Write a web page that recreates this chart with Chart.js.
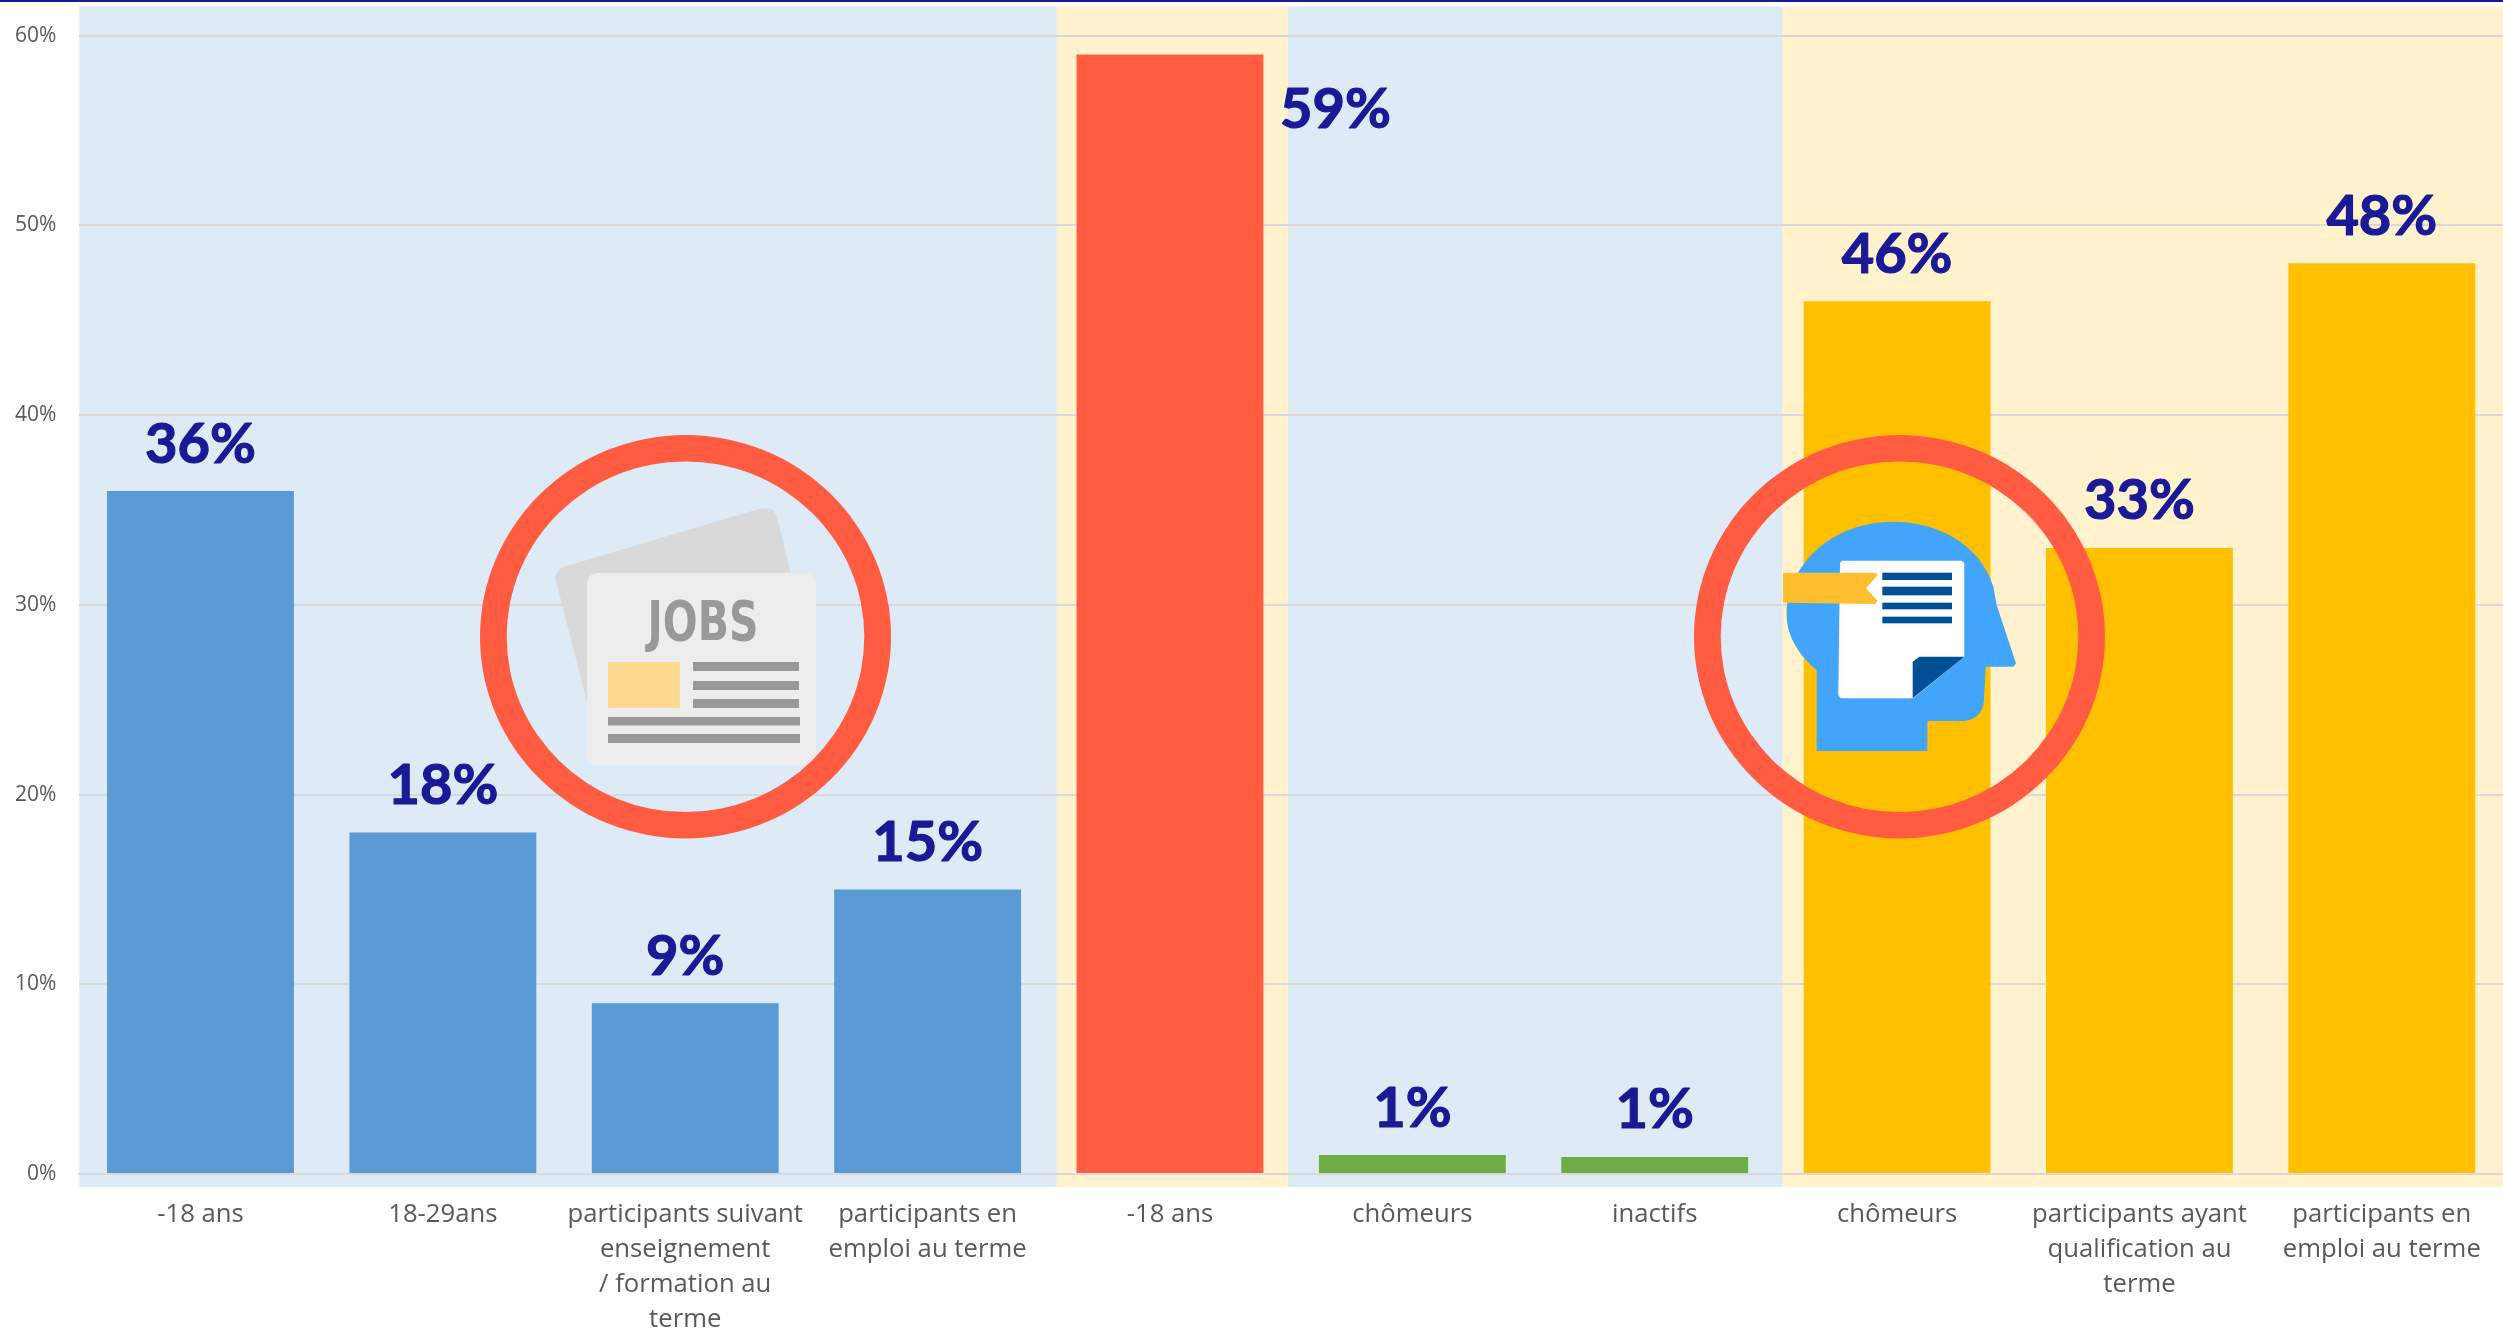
<!DOCTYPE html>
<html><head><meta charset="utf-8">
<style>html,body{margin:0;padding:0;background:#fff;overflow:hidden}canvas{display:block}</style>
<script src="https://cdn.jsdelivr.net/npm/chart.js@4"></script>
</head><body><canvas id="c" width="2503" height="1333"></canvas>
<script>
const categories=[["-18 ans"],["18-29ans"],["participants suivant","enseignement","/ formation au","terme"],["participants en","emploi au terme"],["-18 ans"],["chômeurs"],["inactifs"],["chômeurs"],["participants ayant","qualification au","terme"],["participants en","emploi au terme"]];
const values=[36,18,9,15,59,1,0.9,46,33,48];
const barColors=["#5b9bd5","#5b9bd5","#5b9bd5","#5b9bd5","#ff5c41","#70ad47","#70ad47","#ffc000","#ffc000","#ffc000"];
const yTicks=[0,10,20,30,40,50,60];
const bandEdges=[-0.5,3.533,4.487,6.527,9.5];
const bandColors=["#deeaf6","#fff2cc","#deeaf6","#fff2cc"];

function poly(ctx,pts,color){ctx.fillStyle=color;ctx.beginPath();pts.forEach((p,i)=>i?ctx.lineTo(p[0],p[1]):ctx.moveTo(p[0],p[1]));ctx.closePath();ctx.fill();}
function ring(ctx,cx,cy){ctx.fillStyle="#ff5c41";ctx.beginPath();ctx.ellipse(cx,cy,205.5,201.7,0,0,Math.PI*2);ctx.ellipse(cx,cy,178.8,175.3,0,0,Math.PI*2);ctx.fill("evenodd");}
function jobsIcon(ctx){
  ctx.save();
  poly(ctx,[[555,577],[560,568],[762,508],[772,509],[777,516],[791,575],[587,702]],"#d9d9d9");
  ctx.fillStyle="#ededed";ctx.beginPath();ctx.roundRect(587,573,229,193,10);ctx.fill();
  ctx.fillStyle="#999999";ctx.font="bold 49px 'DejaVu Sans Condensed'";ctx.textAlign="center";ctx.textBaseline="alphabetic";
  ctx.save();ctx.translate(703,640);ctx.scale(0.93,1.14);ctx.fillText("JOBS",0,0);ctx.restore();
  ctx.fillStyle="#ffd98f";ctx.fillRect(608,662,72,46);
  ctx.fillStyle="#999999";
  [[693,662,106,9],[693,681,106,9],[693,699,106,9],[608,717,192,8.5],[608,734,192,9]].forEach(r=>ctx.fillRect(r[0],r[1],r[2],r[3]));
  ctx.restore();
}
function headIcon(ctx){
  const X=z=>1680+z/3,Y=z=>420+z/3;
  ctx.save();
  ctx.fillStyle="#42a5f9";ctx.beginPath();
  ctx.moveTo(X(410),Y(993));ctx.lineTo(X(742),Y(993));ctx.lineTo(X(742),Y(903));ctx.lineTo(X(850),Y(903));
  ctx.quadraticCurveTo(X(908),Y(898),X(912),Y(840));ctx.lineTo(X(917),Y(740));ctx.lineTo(X(1000),Y(740));ctx.lineTo(X(1008),Y(730));
  ctx.lineTo(X(950),Y(555));ctx.lineTo(X(940),Y(500));
  ctx.bezierCurveTo(X(900),Y(370),X(770),Y(305),X(640),Y(305));
  ctx.bezierCurveTo(X(450),Y(305),X(320),Y(440),X(320),Y(585));
  ctx.bezierCurveTo(X(320),Y(650),X(360),Y(710),X(410),Y(750));
  ctx.closePath();ctx.fill();
  const Pa=a=>a.map(p=>[X(p[0]),Y(p[1])]);
  poly(ctx,Pa([[480,428],[486,422],[845,422],[853,430],[853,710],[700,835],[482,835],[475,825]]),"#ffffff");
  poly(ctx,Pa([[853,710],[718,710],[698,725],[698,835]]),"#005096");
  ctx.fillStyle="#005096";
  [[458,480],[500,526],[548,568],[590,610]].forEach(r=>ctx.fillRect(X(607),Y(r[0]),209/3,(r[1]-r[0])/3));
  poly(ctx,Pa([[309,458],[585,458],[593,465],[558,505],[593,543],[585,552],[309,548]]),"#fdbf2d");
  ctx.restore();
}
const decor={id:"decor",
  beforeDraw(ch){
    const {ctx,scales:{x,y}}=ch;
    const top=y.getPixelForValue(61.53),bot=y.getPixelForValue(-0.685);
    ctx.save();
    ctx.fillStyle="#1a1a96";ctx.fillRect(0,0,ch.width,2);
    bandColors.forEach((c,i)=>{
      const a=x.getPixelForValue(bandEdges[i]),b=x.getPixelForValue(bandEdges[i+1]);
      ctx.fillStyle=c;ctx.fillRect(a,top,b-a,bot-top);
    });
    ctx.restore();
  },
  afterDraw(ch){
    const {ctx}=ch,m=ch.getDatasetMeta(0);
    ctx.save();
    ctx.fillStyle="#1a1a96";ctx.strokeStyle="#1a1a96";ctx.lineWidth=1.2;ctx.lineJoin="round";
    ctx.font="700 56px Lato";ctx.textAlign="center";ctx.textBaseline="middle";
    values.forEach((v,i)=>{
      const b=m.data[i],above=v<59;
      const tx=above?b.x:b.x+b.width/2+72,ty=above?b.y-46.5:b.y+55;
      ctx.fillText(Math.round(v)+"%",tx,ty);ctx.strokeText(Math.round(v)+"%",tx,ty);
    });
    ctx.restore();
    jobsIcon(ctx);headIcon(ctx);
    ring(ctx,685.5,636.7);ring(ctx,1899.5,636.7);
  }};
new Chart(document.getElementById("c"),{
  type:"bar",
  data:{labels:categories,datasets:[{data:values,backgroundColor:barColors,barPercentage:0.771,categoryPercentage:1}]},
  plugins:[decor],
  options:{responsive:false,animation:false,devicePixelRatio:1,
    layout:{padding:{top:35,right:0,bottom:0,left:0}},
    plugins:{legend:{display:false},tooltip:{enabled:false},title:{display:false}},
    scales:{
      x:{grid:{display:false},border:{display:true,color:"#d9d9d9",width:2,z:1},
        ticks:{color:"#595959",font:{family:"'Open Sans'",size:25.7,lineHeight:1.36},padding:15,maxRotation:0,minRotation:0,autoSkip:false},
        afterFit(s){s.height=159;}},
      y:{min:0,max:60,grid:{color:"#d9d9d9",lineWidth:2,drawTicks:false},border:{display:false},
        ticks:{color:"#595959",font:{family:"'Open Sans'",size:21},padding:23,stepSize:10,callback:v=>yTicks.includes(v)?v+"%":""},
        afterFit(s){s.width=79.3;}}
    }}
});
</script></body></html>
